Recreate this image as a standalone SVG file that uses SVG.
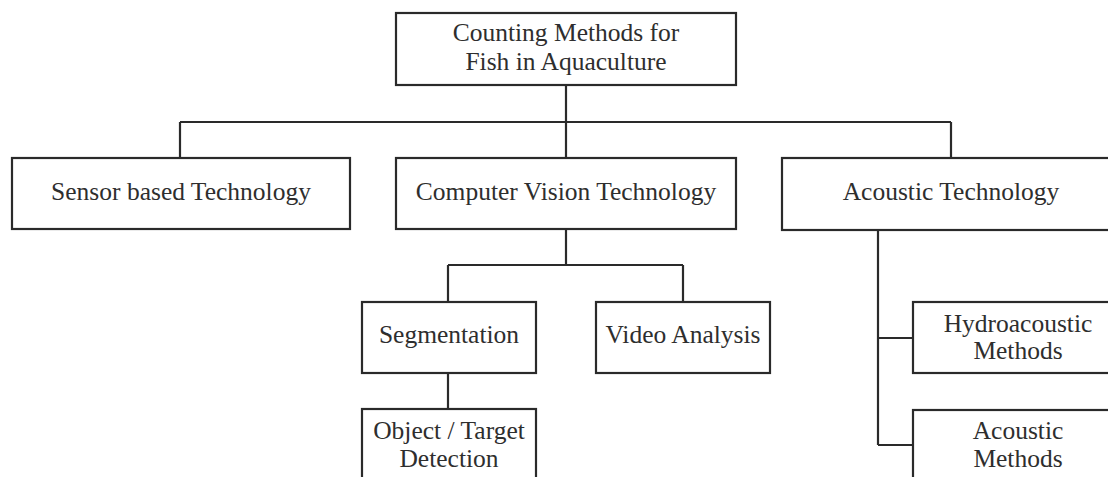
<svg xmlns="http://www.w3.org/2000/svg" width="1108" height="477" viewBox="0 0 1108 477">
<style>
.box{fill:#fff;stroke:#2a2a2a;stroke-width:2.2}
.ln{fill:none;stroke:#2a2a2a;stroke-width:2.2}
text{font-family:"Liberation Serif","Times New Roman",serif;font-size:25.5px;fill:#2e2e2e;text-anchor:middle}
</style>
<rect width="1108" height="477" fill="#fff"/>
<g id="connectors">
<path class="ln" d="M566 85V122M180 122H951M180 122V158M566 122V158M951 122V158"/>
<path class="ln" d="M566 229V265M448 265H683M448 265V302M683 265V302M448 373V409"/>
<path class="ln" d="M878 230V445M878 338H913M878 445H913"/>
</g>
<g id="root"><rect class="box" x="396" y="13" width="340" height="72"/><text x="566" y="41">Counting Methods for</text><text x="566" y="70">Fish in Aquaculture</text></g>
<g id="sensor"><rect class="box" x="12" y="158" width="338" height="71"/><text x="181" y="200">Sensor based Technology</text></g>
<g id="vision"><rect class="box" x="396" y="158" width="340" height="71"/><text x="566" y="200">Computer Vision Technology</text></g>
<g id="acoustic"><rect class="box" x="782" y="158" width="340" height="72"/><text x="951" y="200">Acoustic Technology</text></g>
<g id="segmentation"><rect class="box" x="362" y="302" width="174" height="71"/><text x="449" y="343">Segmentation</text></g>
<g id="video"><rect class="box" x="596" y="302" width="174" height="71"/><text x="683" y="343">Video Analysis</text></g>
<g id="object"><rect class="box" x="362" y="409" width="174" height="80"/><text x="449" y="439">Object / Target</text><text x="449" y="467">Detection</text></g>
<g id="hydro"><rect class="box" x="913" y="302" width="210" height="71"/><text x="1018" y="332">Hydroacoustic</text><text x="1018" y="359">Methods</text></g>
<g id="acmethods"><rect class="box" x="913" y="410" width="210" height="80"/><text x="1018" y="439">Acoustic</text><text x="1018" y="467">Methods</text></g>
</svg>
